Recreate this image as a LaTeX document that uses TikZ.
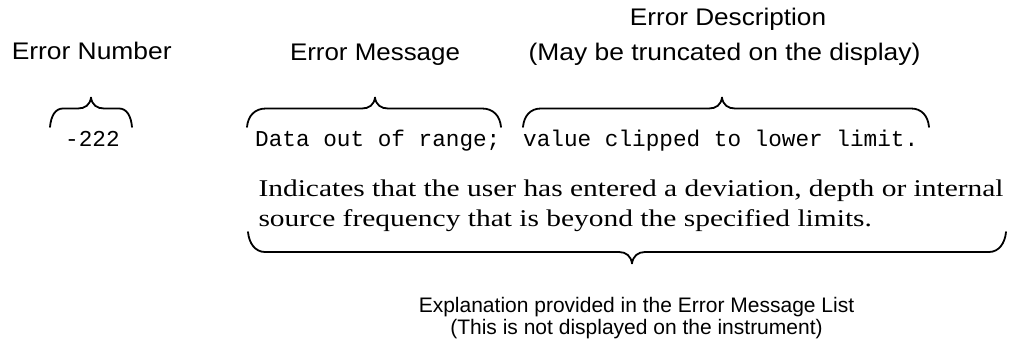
\documentclass[tikz,border=0pt]{standalone}
\usepackage{fontspec}
\usepackage{graphicx}
\newfontfamily\lsans{Liberation Sans}
\newfontfamily\lserif{Liberation Serif}
\newfontfamily\lmono{Liberation Mono}
\newcommand\wide[2]{\scalebox{#1}[1]{#2}}
% top brace: left x, tip x, right x, end-curve width
\newcommand\tbrace[4]{\draw[brc] (#1,127) .. controls ({#1+1},116) and ({#1+0.4*#4},108.5) .. ({#1+#4},108.5) -- ({#2-13},108.5) .. controls ({#2-6},108.5) and ({#2-1},105) .. (#2,97.5) .. controls ({#2+1},105) and ({#2+6},108.5) .. ({#2+13},108.5) -- ({#3-#4},108.5) .. controls ({#3-0.4*#4},108.5) and ({#3-1},116) .. (#3,127);}
\begin{document}
\begin{tikzpicture}[x=1pt,y=-1pt,
  lbl/.style={inner sep=0pt, anchor=base, font=\lsans\fontsize{24}{28}\selectfont},
  expl/.style={inner sep=0pt, anchor=base, font=\lsans\fontsize{21}{23}\selectfont},
  code/.style={inner sep=0pt, anchor=base west, font=\lmono\fontsize{22.7}{26}\selectfont},
  body/.style={inner sep=0pt, anchor=base west, font=\lserif\fontsize{24}{30}\selectfont},
  brc/.style={line width=1.8pt, line cap=round, line join=round}]
\useasboundingbox (0,0) rectangle (1010,344);
% headings
\node[lbl] (num) at (91.7,60) {\wide{1.1}{Error Number}};
\node[lbl] (msg) at (375,61) {\wide{1.08}{Error Message}};
\node[lbl] (desc) at (728,26) {\wide{1.09}{Error Description}};
\node[lbl] (trunc) at (724.5,61) {\wide{1.1}{(May be truncated on the display)}};
% braces over the code line
\tbrace{50}{91}{132}{13}
\tbrace{247}{375}{501}{19}
\tbrace{523}{722}{929}{18}
% the code line
\node[code] (n222) at (65,147) {-222};
\node[code] (dat) at (255,147) {Data out of range;};
\node[code] (val) at (523,147) {value clipped to lower limit.};
% explanation text
\node[body] (body) at (258.3,196.7) {\resizebox{745pt}{\height}{\begin{tabular}[t]{@{}l@{}}Indicates that the user has entered a deviation, depth or internal\\source frequency that is beyond the specified limits.\end{tabular}}};
% bottom brace
\draw[brc] (248,232) .. controls (249,243) and (255,252) .. (265,252) -- (619,252) .. controls (626,252) and (631,256) .. (632,263.5) .. controls (633,256) and (638,252) .. (645,252) -- (989,252) .. controls (999,252) and (1005,243) .. (1006,232);
% caption
\node[expl] (ex1) at (636.5,312.5) {Explanation provided in the Error Message List};
\node[expl] (ex2) at (636.5,335) {(This is not displayed on the instrument)};
\end{tikzpicture}
\end{document}
